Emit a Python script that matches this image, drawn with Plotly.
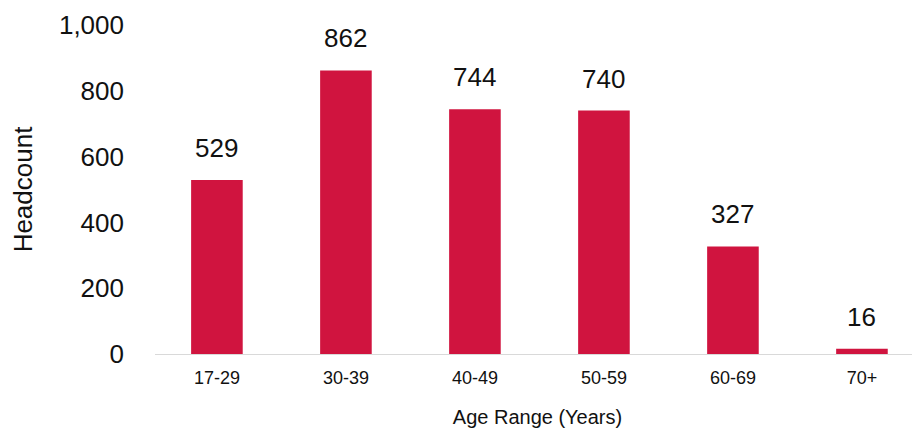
import plotly.graph_objects as go

# age bands and headcount per band
age_ranges = ['17-29', '30-39', '40-49', '50-59', '60-69', '70+']
headcount = [529, 862, 744, 740, 327, 16]
y_ticks = [0, 200, 400, 600, 800, 1000]

bar_color = '#D0143F'
font_family = 'Liberation Sans, Arial, Helvetica, sans-serif'

fig = go.Figure(
    go.Bar(
        x=age_ranges,
        y=headcount,
        marker=dict(color=bar_color, line=dict(width=0)),
        hoverinfo='x+y',
    )
)

# value labels above each bar
for cat, val in zip(age_ranges, headcount):
    fig.add_annotation(
        x=cat, y=val, text=str(val), showarrow=False,
        yanchor='bottom', yshift=15,
        font=dict(size=26, color='#111111'),
    )

# page body adds an 8px margin, so the figure is 8px smaller each way
fig.update_layout(
    width=912, height=420,
    margin=dict(l=147, r=0, t=17, b=74),
    plot_bgcolor='white', paper_bgcolor='white',
    font=dict(family=font_family, color='#111111'),
    bargap=0.6,
    showlegend=False,
    xaxis=dict(
        type='category',
        range=[-0.48, 5.45],
        automargin=False,
        showline=True, linecolor='#d9d9d9', linewidth=1,
        showgrid=False, ticks='',
        tickfont=dict(size=18),
        ticklabelstandoff=7,
        title=dict(text='Age Range (Years)', font=dict(size=20), standoff=24),
    ),
    yaxis=dict(
        range=[0, 1000],
        automargin=False,
        tickvals=y_ticks, tickformat=',',
        showgrid=False, zeroline=False, showline=False, ticks='',
        tickfont=dict(size=26),
        ticklabelstandoff=30,
        title=dict(text='Headcount', font=dict(size=26), standoff=19),
    ),
)

fig.write_html("out.html")
